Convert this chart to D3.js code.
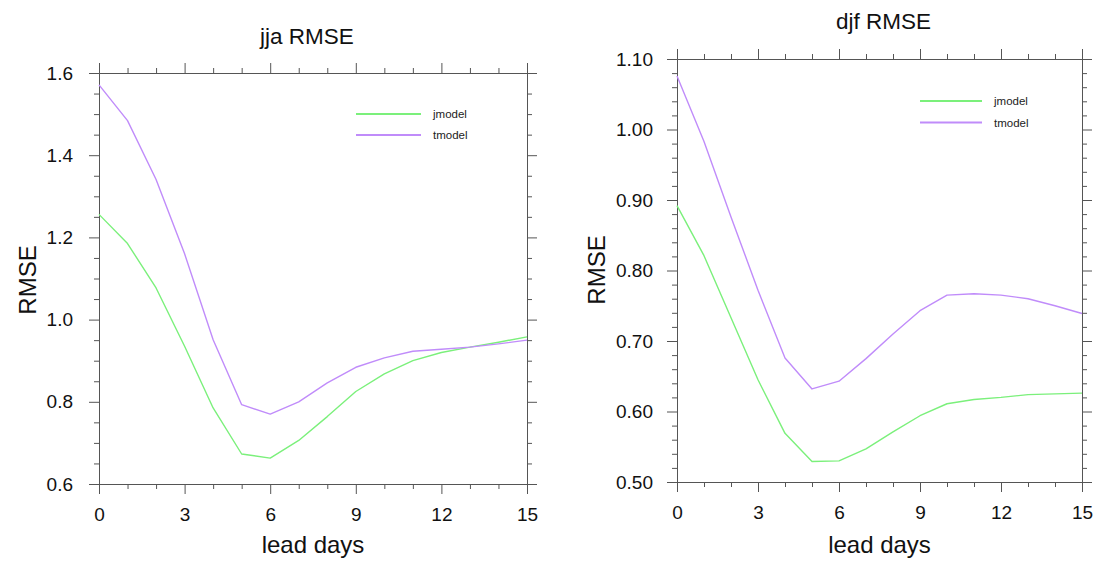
<!DOCTYPE html>
<html>
<head>
<meta charset="utf-8">
<script src="https://cdn.jsdelivr.net/npm/d3@7"></script>
<style>
  html, body { margin: 0; padding: 0; background: #fff; }
  svg { display: block; font-family: "Liberation Sans", Arial, sans-serif; }
</style>
</head>
<body>
<svg id="chart" width="1094" height="561"></svg>
<script>
// ---- data ----
const leadDays = [0,1,2,3,4,5,6,7,8,9,10,11,12,13,14,15];
const seriesNames = ["jmodel", "tmodel"];

const jjaJmodel = [1.256,1.185,1.077,0.935,0.785,0.673,0.663,0.706,0.764,0.825,0.868,0.900,0.920,0.933,0.945,0.958];
const jjaTmodel = [1.571,1.484,1.341,1.160,0.951,0.793,0.770,0.800,0.846,0.884,0.907,0.923,0.928,0.933,0.941,0.950];

const djfJmodel = [0.892,0.821,0.733,0.645,0.569,0.529,0.530,0.547,0.571,0.594,0.611,0.617,0.620,0.624,0.625,0.626];
const djfTmodel = [1.076,0.983,0.876,0.772,0.676,0.632,0.643,0.675,0.710,0.743,0.765,0.767,0.765,0.760,0.750,0.739];

const xTicks = [0,3,6,9,12,15];
const jjaYTicks = [0.6,0.8,1.0,1.2,1.4,1.6];
const djfYTicks = [0.50,0.60,0.70,0.80,0.90,1.00,1.10];

const colors = { jmodel: "#7bf07b", tmodel: "#c08cfa" };

const svg = d3.select("#chart");

function panel(opt) {
  const g = svg.append("g");
  const x = d3.scaleLinear().domain([0, 15]).range([opt.left, opt.right]);
  const y = d3.scaleLinear().domain(opt.yDomain).range([opt.bottom, opt.top]);
  const axisColor = "#555";
  const major = 10, minor = 5;

  const xMinor = d3.range(0, 15.001, 1).filter(v => v % 3 !== 0);
  const yMinor = d3.range(opt.yDomain[0], opt.yDomain[1] + 1e-9, opt.yMinorStep)
    .map(v => +v.toFixed(4))
    .filter(v => !opt.yTicks.some(t => Math.abs(t - v) < 1e-6));

  function styleAxis(sel) {
    sel.select(".domain").attr("stroke", axisColor).attr("stroke-width", 1);
    sel.selectAll(".tick line").attr("stroke", axisColor).attr("stroke-width", 1);
  }

  // bottom axis (labelled)
  g.append("g").attr("transform", `translate(0,${opt.bottom})`)
    .call(d3.axisBottom(x).tickValues(xTicks).tickSize(major).tickSizeOuter(0).tickPadding(14).tickFormat(d3.format("d")))
    .call(styleAxis)
    .call(s => s.selectAll("text").attr("font-size", 19).attr("fill", "#111"));
  g.append("g").attr("transform", `translate(0,${opt.bottom})`)
    .call(d3.axisBottom(x).tickValues(xMinor).tickSize(minor).tickSizeOuter(0).tickFormat(""))
    .call(styleAxis);

  // top axis
  g.append("g").attr("transform", `translate(0,${opt.top})`)
    .call(d3.axisTop(x).tickValues(xTicks).tickSize(major).tickSizeOuter(0).tickFormat(""))
    .call(styleAxis);
  g.append("g").attr("transform", `translate(0,${opt.top})`)
    .call(d3.axisTop(x).tickValues(xMinor).tickSize(minor).tickSizeOuter(0).tickFormat(""))
    .call(styleAxis);

  // left axis (labelled)
  g.append("g").attr("transform", `translate(${opt.left},0)`)
    .call(d3.axisLeft(y).tickValues(opt.yTicks).tickSize(major).tickSizeOuter(0).tickPadding(opt.yPad).tickFormat(d3.format(opt.yFormat)))
    .call(styleAxis)
    .call(s => s.selectAll("text").attr("font-size", 19).attr("fill", "#111"));
  g.append("g").attr("transform", `translate(${opt.left},0)`)
    .call(d3.axisLeft(y).tickValues(yMinor).tickSize(minor).tickSizeOuter(0).tickFormat(""))
    .call(styleAxis);

  // right axis
  g.append("g").attr("transform", `translate(${opt.right},0)`)
    .call(d3.axisRight(y).tickValues(opt.yTicks).tickSize(major).tickSizeOuter(0).tickFormat(""))
    .call(styleAxis);
  g.append("g").attr("transform", `translate(${opt.right},0)`)
    .call(d3.axisRight(y).tickValues(yMinor).tickSize(minor).tickSizeOuter(0).tickFormat(""))
    .call(styleAxis);

  // lines
  const line = d3.line().x((d, i) => x(leadDays[i])).y(d => y(d));
  const data = { jmodel: opt.jmodel, tmodel: opt.tmodel };
  seriesNames.forEach(name => {
    g.append("path").datum(data[name])
      .attr("d", line).attr("fill", "none")
      .attr("stroke", colors[name]).attr("stroke-width", 1.4)
      .attr("stroke-linejoin", "round");
  });

  // title
  g.append("text").attr("x", (opt.left + opt.right) / 2 + opt.titleDx).attr("y", opt.titleY)
    .attr("text-anchor", "middle").attr("font-size", 22.5).attr("fill", "#111").text(opt.title);

  // x label
  g.append("text").attr("x", (opt.left + opt.right) / 2).attr("y", 553)
    .attr("text-anchor", "middle").attr("font-size", 24).attr("fill", "#111").text("lead days");

  // y label
  g.append("text").attr("transform", `translate(${opt.yLabelX},${opt.yLabelY}) rotate(-90)`)
    .attr("text-anchor", "middle").attr("font-size", 24).attr("fill", "#111").text("RMSE");

  // legend
  seriesNames.forEach((name, i) => {
    const ly = opt.legendY + i * opt.legendGap;
    g.append("line").attr("x1", opt.legendX).attr("x2", opt.legendX + opt.legendLen)
      .attr("y1", ly).attr("y2", ly).attr("stroke", colors[name]).attr("stroke-width", 2);
    g.append("text").attr("x", opt.legendX + opt.legendLen + 12).attr("y", ly + 4)
      .attr("font-size", 11.5).attr("fill", "#222").text(name);
  });
}

panel({
  left: 99, right: 527, top: 73, bottom: 484,
  yDomain: [0.6, 1.6], yTicks: jjaYTicks, yMinorStep: 0.05, yFormat: ".1f", yPad: 16,
  jmodel: jjaJmodel, tmodel: jjaTmodel,
  title: "jja RMSE", titleY: 44, titleDx: -6,
  yLabelX: 36, yLabelY: 280,
  legendX: 356, legendLen: 65, legendY: 114, legendGap: 21
});

panel({
  left: 677, right: 1082, top: 59, bottom: 482,
  yDomain: [0.5, 1.1], yTicks: djfYTicks, yMinorStep: 0.02, yFormat: ".2f", yPad: 14,
  jmodel: djfJmodel, tmodel: djfTmodel,
  title: "djf RMSE", titleY: 29, titleDx: 4,
  yLabelX: 605, yLabelY: 270,
  legendX: 920, legendLen: 62, legendY: 101, legendGap: 21.5
});
</script>
</body>
</html>
